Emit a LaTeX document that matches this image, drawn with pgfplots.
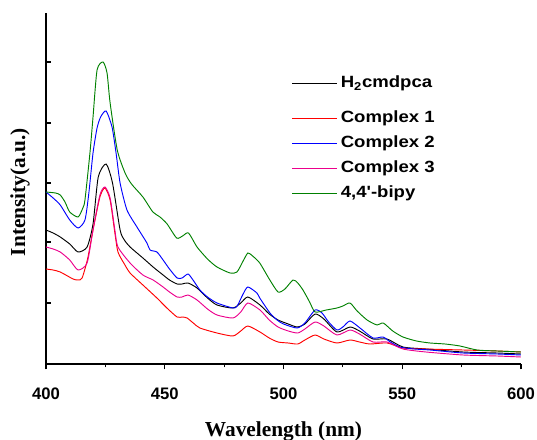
\documentclass[border=0pt]{standalone}
\usepackage{fontspec}
\usepackage{pgfplots}
\pgfplotsset{compat=1.18}
\setmainfont{Liberation Serif}
\newfontfamily\boldsans{Liberation Sans Bold}
\newfontfamily\legendsans[FakeStretch=1.14]{Liberation Sans Bold}
\definecolor{dgreen}{RGB}{0,128,0}
\pgfplotsset{first legend/.style={legend image code/.code={\path[draw=none,fill=none] (0pt,-16.6pt) rectangle (34pt,9.4pt);\draw[##1, line width=1.1pt] (0pt,4pt) -- (34pt,4pt);}}}

\begin{document}
\begin{tikzpicture}
\begin{axis}[
    name=ax,
    scale only axis,
    width=356.25pt, height=263.25pt,
    xmin=400, xmax=600, ymin=0, ymax=351,
    axis lines*=left,
    axis line style={line width=1pt},
    xtick={400,450,...,600},
    minor xtick={425,475,525,575},
    xtick align=outside,
    major tick length=4pt, minor tick length=2.5pt,
    ytick={0,61,122,181,241,302},
    yticklabels={},
    ytick align=inside,
    tick style={black, line width=0.8pt},
    /pgf/number format/assume math mode=true,
    xticklabel style={font=\boldsans\fontsize{12.5}{14}\selectfont, inner sep=0pt, anchor=north, yshift=-13.5pt},
    xlabel={\bfseries Wavelength (nm)},
    ylabel={\bfseries Intensity(a.u.)},
    label style={font=\fontsize{16}{18}\selectfont},
    xlabel style={at={(axis description cs:0.5,0)}, anchor=north, inner sep=0pt, yshift=-43pt},
    ylabel style={at={(axis description cs:0,0.49)}, anchor=center, yshift=19.5pt},
    legend style={at={(rel axis cs:0.516,0.82)}, anchor=north west, draw=none, fill=none,
        font=\legendsans\fontsize{12.2}{14}\selectfont, inner sep=0pt, row sep=0pt,
        legend cell align=left},
    legend image code/.code={\path[draw=none,fill=none] (0pt,-9.4pt) rectangle (34pt,9.4pt);\draw[#1, line width=1.1pt] (0pt,4pt) -- (34pt,4pt);},
    every axis plot/.append style={line width=0.7pt, smooth, tension=0.4},
]
\addplot[black, first legend] coordinates {(400,134)(403,131)(406,127)(410,120)(413.5,112)(417.3,117)(419.8,140)(422,187)(425.3,200)(428,181)(431.2,134)(433,124)(435.4,117)(440.8,106)(445.1,97)(449.3,89)(452,84)(455.2,80)(457.3,80)(459.8,81)(463.6,76)(468,66)(472,59)(478.7,56)(482,61)(485,67)(490.1,59)(494,50)(497.7,44)(502,40)(505.7,37)(509,40)(513.3,50)(517,45)(522.5,32)(528,37)(532,33)(537.7,25)(543.6,25)(550.3,17)(560,15)(575.6,12)(590,11)(600,10)};
\addplot[red] coordinates {(400,95)(403,94)(406,92)(411.4,85)(413.5,84)(415.2,86)(417.5,105)(419.8,134)(422.7,167)(424.8,176)(427,164)(429,131)(430.3,112)(433,100)(435.4,91)(440.8,79)(446.7,66)(450.9,56)(455.2,47)(457.5,47)(459.4,46)(462,41)(464.8,36)(472,31)(478.7,28)(482,33)(485,38)(490.1,32)(494,26)(497.7,22)(502,21)(506,20)(509,24)(513.3,29)(517,25)(522.5,21)(528,24)(532,22)(536.4,20)(543.6,21)(550.3,16)(560,15)(575.6,14)(590,13)(600,12)};
\addplot[blue] coordinates {(400,172)(403,166)(406,159)(410,144)(413.5,136)(416.4,144)(418,170)(419.8,211)(421.5,236)(423,247)(425.3,253)(427.8,237)(429.5,211)(431.2,181)(434.1,154)(438.3,137)(442.5,121)(443.8,114)(446.7,112)(449.3,104)(452,95)(455.2,86)(457.3,86)(459.8,90)(461.9,84)(464.8,74)(468,67)(472,61)(478.7,56)(480.5,58)(483,70)(485,77)(488.8,71)(490,66)(494.3,51)(497.3,44)(500,40)(505.7,36)(509,41)(513.3,54)(516.2,51)(519,42)(522.5,34)(525,37)(528,43)(532.2,36)(537.7,26)(541.9,27)(545,22)(549,17)(555,15)(561.7,14)(575.6,11)(590,10)(600,9)};
\addplot[magenta] coordinates {(400,117)(403,115)(406,112)(410,104)(413.5,94)(417.3,101)(419.8,134)(422.7,169)(424.8,177)(427,166)(429,134)(430.3,117)(435.4,101)(440.8,89)(445.1,84)(449.3,77)(452,72)(455.2,67)(457.3,67)(459.8,69)(463.6,64)(468,55)(472,49)(478.7,46)(482,52)(485,61)(490.1,54)(494,44)(497.7,37)(502,33)(506,31)(509,35)(513.3,42)(517,38)(522.5,29)(528,34)(532,30)(537.7,22)(543.6,22)(550.3,15)(560,12)(575.6,9)(590,8)(600,7)};
\addplot[dgreen] coordinates {(400,172)(404,171)(406,169)(408,162)(410,152)(413.5,147)(415.5,156)(416.4,164)(418.5,211)(419.8,247)(421.5,294)(424,302)(425.7,291)(427,261)(430,214)(433.3,191)(436,180)(440.8,167)(445,152)(448,147)(451,140)(455,126)(457.5,128)(460,131)(463.6,117)(468,105)(472,97)(477.5,91)(480.4,92)(483,103)(485,111)(487,108)(490,101)(494,85)(497.7,72)(500.6,75)(504,84)(506,81)(508.2,74)(511,62)(513.3,52)(518,54)(522.5,56)(525,58)(528,61)(531,53)(535.2,44)(539.4,39)(542,41)(546,33)(550.3,27)(556,23)(561.7,21)(568,20)(574.3,18)(581.5,14)(590,13)(600,12)};
\legend{\smash{H\textsubscript{2}cmdpca}, \smash{Complex 1}, \smash{Complex 2}, \smash{Complex 3}, \smash{4,4'-bipy}}
\end{axis}
\pgfresetboundingbox
\path ([shift={(-34.5pt,-57pt)}]ax.south west) rectangle ([shift={(12pt,9.75pt)}]ax.north east);
\end{tikzpicture}
\end{document}
